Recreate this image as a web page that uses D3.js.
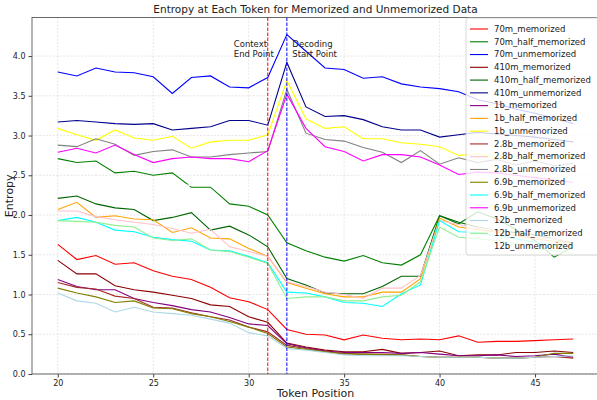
<!DOCTYPE html>
<html lang="en">
<head>
<meta charset="utf-8">
<title>Entropy at Each Token</title>
<script src="https://d3js.org/d3.v7.min.js"></script>
<style type="text/css">
  body { margin: 0; background: #fff; }
  text { font-family: "DejaVu Sans", sans-serif; }
</style>
</head>
<body>
<script type="text/javascript">
// token positions 20..47
var tokens = [20,21,22,23,24,25,26,27,28,29,30,31,32,33,34,35,36,37,38,39,40,41,42,43,44,45,46,47];

var seriesNames = ["70m_memorized","70m_half_memorized","70m_unmemorized",
  "410m_memorized","410m_half_memorized","410m_unmemorized",
  "1b_memorized","1b_half_memorized","1b_unmemorized",
  "2.8b_memorized","2.8b_half_memorized","2.8b_unmemorized",
  "6.9b_memorized","6.9b_half_memorized","6.9b_unmemorized",
  "12b_memorized","12b_half_memorized","12b_unmemorized"];

var seriesColors = ["red","green","blue","darkred","darkgreen","darkblue",
  "purple","orange","yellow","brown","pink","gray",
  "olive","cyan","magenta","lightblue","lightgreen","white"];

var m70_mem = [1.63,1.44,1.49,1.38,1.40,1.30,1.23,1.19,1.09,0.96,0.91,0.81,0.56,0.50,0.49,0.43,0.49,0.45,0.43,0.44,0.43,0.48,0.40,0.41,0.41,0.42,0.43,0.44];
var m70_half = [2.71,2.66,2.68,2.53,2.55,2.50,2.53,2.35,2.35,2.14,2.11,2.00,1.65,1.55,1.47,1.42,1.49,1.40,1.37,1.50,1.99,1.89,2.04,1.95,1.82,1.68,1.47,1.60];
var m70_unmem = [3.80,3.75,3.85,3.80,3.79,3.74,3.53,3.73,3.75,3.61,3.60,3.73,4.27,4.06,3.85,3.83,3.72,3.74,3.65,3.61,3.59,3.55,3.45,3.40,3.33,3.28,3.22,3.15];
var m410_mem = [1.43,1.26,1.26,1.11,1.06,1.03,0.99,0.95,0.87,0.85,0.72,0.65,0.39,0.34,0.30,0.28,0.28,0.31,0.26,0.27,0.29,0.23,0.24,0.24,0.27,0.27,0.29,0.27];
var m410_half = [2.21,2.24,2.14,2.09,2.07,1.93,1.97,2.03,1.81,1.86,1.75,1.60,1.20,1.12,1.02,1.01,1.01,1.10,1.23,1.23,1.99,1.91,1.85,1.80,1.78,1.75,1.70,1.65];
var m410_unmem = [3.17,3.19,3.17,3.15,3.14,3.15,3.07,3.09,3.11,3.19,3.19,3.13,3.92,3.36,3.24,3.25,3.20,3.11,3.07,3.07,2.98,3.01,3.04,3.02,3.00,2.98,2.95,2.92];
var b1_mem = [1.19,1.10,1.06,1.06,0.95,0.90,0.86,0.81,0.78,0.71,0.63,0.61,0.38,0.33,0.29,0.27,0.27,0.27,0.26,0.27,0.25,0.23,0.23,0.24,0.22,0.23,0.25,0.21];
var b1_half = [2.07,2.16,1.97,1.99,1.95,1.94,1.78,1.84,1.71,1.70,1.58,1.48,1.15,1.08,1.01,0.97,0.97,1.03,1.03,1.20,1.96,1.85,1.82,1.78,1.74,1.70,1.67,1.64];
var b1_unmem = [3.09,3.01,2.94,3.07,2.97,2.94,2.99,2.84,2.92,2.94,2.94,3.01,3.69,3.21,3.09,3.11,2.96,2.96,2.91,2.89,2.86,2.75,2.77,2.72,2.74,2.70,2.72,2.73];
var b28_mem = [1.15,1.09,1.07,0.98,0.95,0.84,0.83,0.77,0.72,0.68,0.59,0.53,0.36,0.32,0.28,0.26,0.25,0.25,0.24,0.22,0.21,0.21,0.21,0.20,0.20,0.21,0.22,0.20];
var b28_half = [2.05,2.05,1.98,1.94,1.91,1.88,1.83,1.77,1.82,1.60,1.54,1.48,1.16,1.10,1.03,1.00,0.95,1.08,1.08,1.24,1.93,1.88,1.84,1.80,1.76,1.72,1.70,1.66];
var b28_unmem = [2.88,2.86,2.96,2.89,2.75,2.80,2.82,2.73,2.73,2.76,2.78,2.80,3.58,3.03,2.95,2.93,2.85,2.79,2.66,2.81,2.64,2.72,2.66,2.70,2.63,2.68,2.62,2.65];
var b69_mem = [1.08,1.02,0.97,0.90,0.92,0.83,0.82,0.76,0.72,0.66,0.59,0.51,0.34,0.31,0.28,0.25,0.25,0.24,0.24,0.22,0.21,0.21,0.21,0.20,0.20,0.21,0.26,0.26];
var b69_half = [1.93,1.97,1.91,1.81,1.79,1.72,1.69,1.67,1.56,1.55,1.48,1.40,1.03,1.02,0.97,0.90,0.89,0.85,1.01,1.12,1.93,1.79,1.78,1.74,1.70,1.66,1.62,1.60];
var b69_unmem = [2.79,2.84,2.78,2.88,2.76,2.66,2.71,2.73,2.71,2.71,2.67,2.81,3.52,3.09,2.86,2.80,2.68,2.76,2.76,2.73,2.63,2.51,2.54,2.53,2.50,2.47,2.44,2.41];
var b12_mem = [1.02,0.92,0.89,0.78,0.84,0.78,0.76,0.74,0.69,0.64,0.52,0.48,0.32,0.30,0.27,0.24,0.23,0.23,0.23,0.22,0.21,0.21,0.21,0.20,0.20,0.21,0.22,0.23];
var b12_half = [1.93,1.92,1.91,1.87,1.85,1.71,1.68,1.70,1.56,1.54,1.47,1.39,0.95,0.97,0.97,0.92,0.92,0.97,0.99,1.16,1.85,1.72,1.70,1.68,1.64,1.58,1.55,1.52];
var b12_unmem = [2.45,2.42,2.44,2.40,2.41,2.38,2.40,2.37,2.39,2.36,2.35,2.42,3.30,2.80,2.62,2.58,2.50,2.52,2.47,2.48,2.40,2.38,2.36,2.35,2.34,2.32,2.30,2.30];

var seriesValues = [m70_mem, m70_half, m70_unmem, m410_mem, m410_half, m410_unmem,
  b1_mem, b1_half, b1_unmem, b28_mem, b28_half, b28_unmem,
  b69_mem, b69_half, b69_unmem, b12_mem, b12_half, b12_unmem];

var xTicks = [20,25,30,35,40,45];
var yTicks = [0,0.5,1,1.5,2,2.5,3,3.5,4];
var contextEnd = 31, decodeStart = 32;

//Width and height
var w = 597, h = 400;
var padL = 32, padT = 17.5, padR = 599, padB = 374;

var x = d3.scaleLinear().domain([18.65, 48.35]).range([padL, padR]);
var y = d3.scaleLinear().domain([0, 4.485]).range([padB, padT]);

var svg = d3.select("body")
  .append("svg")
  .attr("width", w)
  .attr("height", h);

//grid
var grid = svg.append("g");
grid.selectAll("line.vx")
  .data(xTicks).enter().append("line")
  .attr("x1", function(d){ return x(d); }).attr("x2", function(d){ return x(d); })
  .attr("y1", padT).attr("y2", padB);
grid.selectAll("line.hy")
  .data(yTicks).enter().append("line")
  .attr("x1", padL).attr("x2", padR)
  .attr("y1", function(d){ return y(d); }).attr("y2", function(d){ return y(d); });
grid.selectAll("line")
  .style("stroke", "#b0b0b0")
  .style("stroke-width", 0.6)
  .style("stroke-dasharray", "2,1.5")
  .style("opacity", 0.5);

//series lines
var line = d3.line()
  .x(function(d, i){ return x(tokens[i]); })
  .y(function(d){ return y(d); });

svg.append("g").selectAll("path")
  .data(seriesValues)
  .enter()
  .append("path")
  .attr("d", line)
  .style("fill", "none")
  .style("stroke", function(d, i){ return seriesColors[i]; })
  .style("stroke-width", 1.1);

//context / decoding markers
svg.append("line")
  .attr("x1", x(contextEnd)).attr("x2", x(contextEnd))
  .attr("y1", padT).attr("y2", padB)
  .style("stroke", "red").style("stroke-width", 1)
  .style("stroke-dasharray", "3.5,1.5");
svg.append("line")
  .attr("x1", x(decodeStart)).attr("x2", x(decodeStart))
  .attr("y1", padT).attr("y2", padB)
  .style("stroke", "blue").style("stroke-width", 1)
  .style("stroke-dasharray", "3.5,1.5");

var notes = svg.append("g").style("font-size", "8.5px").style("fill", "#222");
notes.append("text").attr("x", x(contextEnd) - 34).attr("y", 46.5).text("Context");
notes.append("text").attr("x", x(contextEnd) - 34).attr("y", 56.5).text("End Point");
notes.append("text").attr("x", x(decodeStart) + 5.5).attr("y", 46.5).text("Decoding");
notes.append("text").attr("x", x(decodeStart) + 5.5).attr("y", 56.5).text("Start Point");

//axes
var xAxis = svg.append("g")
  .attr("transform", "translate(0," + padB + ")")
  .call(d3.axisBottom(x).tickValues(xTicks).tickFormat(d3.format("d")).tickSizeOuter(0).tickSize(3.5));
var yAxis = svg.append("g")
  .attr("transform", "translate(" + padL + ",0)")
  .call(d3.axisLeft(y).tickValues(yTicks).tickFormat(d3.format(".1f")).tickSizeOuter(0).tickSize(3.5));
[xAxis, yAxis].forEach(function(a){
  a.selectAll("text").style("font-size", "8px").style("font-family", "DejaVu Sans").style("fill", "#222");
  a.selectAll("line").style("stroke", "#444");
  a.select(".domain").remove();
});

svg.append("rect")
  .attr("x", padL).attr("y", padT)
  .attr("width", padR - padL).attr("height", padB - padT)
  .style("fill", "none").style("stroke", "#444").style("stroke-width", 0.8);

//titles
svg.append("text")
  .attr("x", (padL + padR) / 2).attr("y", 13)
  .attr("text-anchor", "middle")
  .style("font-size", "10.5px").style("fill", "#222")
  .text("Entropy at Each Token for Memorized and Unmemorized Data");
svg.append("text")
  .attr("x", (padL + padR) / 2).attr("y", 397)
  .attr("text-anchor", "middle")
  .style("font-size", "11px").style("fill", "#222")
  .text("Token Position");
svg.append("text")
  .attr("transform", "translate(13," + ((padT + padB) / 2) + ") rotate(-90)")
  .attr("text-anchor", "middle")
  .style("font-size", "11px").style("fill", "#222")
  .text("Entropy");

//legend
var legend = svg.append("g");
legend.append("rect")
  .attr("x", 466).attr("y", 18)
  .attr("width", 140).attr("height", 237)
  .attr("rx", 2)
  .style("fill", "white").style("fill-opacity", 0.8)
  .style("stroke", "#ccc").style("stroke-width", 0.8);
var entries = legend.selectAll("g.entry")
  .data(seriesNames)
  .enter()
  .append("g")
  .attr("transform", function(d, i){ return "translate(0," + (29 + i * 12.77) + ")"; });
entries.append("line")
  .attr("x1", 470).attr("x2", 488)
  .style("stroke", function(d, i){ return seriesColors[i]; })
  .style("stroke-width", 1.1);
entries.append("text")
  .attr("x", 494).attr("dy", "0.32em")
  .style("font-size", "8.5px").style("fill", "#222")
  .text(function(d){ return d; });
</script>
</body>
</html>
